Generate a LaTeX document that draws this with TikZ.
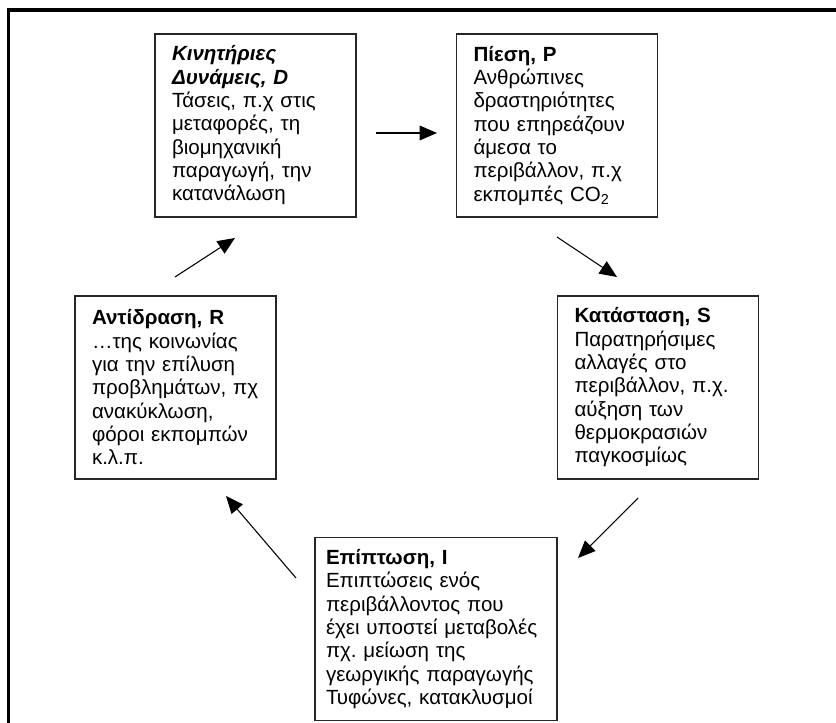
\documentclass[tikz,border=0pt]{standalone}
\usepackage{fontspec}
\setmainfont{Liberation Sans}
\usetikzlibrary{arrows.meta}
\frenchspacing

\begin{document}
\begin{tikzpicture}[
    x=0.75pt, y=-0.75pt,
    box/.style={rectangle, draw=black!85, line width=0.9pt, align=left, text width=125.25pt, inner xsep=12.75pt, minimum height=137.25pt, font=\fontsize{15.4}{17.5}\selectfont},
    arrow/.style={-{Triangle[length=13pt, width=11pt]}, line width=0.8pt}
]
\useasboundingbox (0,0) rectangle (836,723);
% frame
\draw[line width=2.4pt] (8.5,723) -- (8.5,10) -- (836,10);

% the five boxes of the cycle
\node[box] (drv) at (255.5,125.5) {\textbf{\textit{Κινητήριες Δυνάμεις, D}}\\Τάσεις, π.χ στις\\μεταφορές, τη\\βιομηχανική\\παραγωγή, την\\κατανάλωση};
\node[box] (pres) at (557,125.5) {\textbf{Πίεση, P}\\Ανθρώπινες\\δραστηριότητες\\που επηρεάζουν\\άμεσα το\\περιβάλλον, π.χ\\εκπομπές CO\textsubscript{2}};
\node[box] (state) at (658,387.5) {\textbf{Κατάσταση, S}\\Παρατηρήσιμες\\αλλαγές στο\\περιβάλλον, π.χ.\\αύξηση των\\θερμοκρασιών\\παγκοσμίως};
\node[box, text width=165pt, inner xsep=8.25pt] (imp) at (436,629) {\textbf{Επίπτωση, I}\\Επιπτώσεις ενός\\περιβάλλοντος που\\έχει υποστεί μεταβολές\\πχ. μείωση της\\γεωργικής παραγωγής\\Τυφώνες, κατακλυσμοί};
\node[box] (resp) at (175.5,387.5) {\textbf{Αντίδραση, R}\\…της κοινωνίας\\για την επίλυση\\προβλημάτων,~πχ\\ανακύκλωση,\\φόροι εκπομπών\\κ.λ.π.};

% arrow ends
\coordinate (dp1) at (376,133);
\coordinate (dp2) at (437,133);
\coordinate (ps1) at (557,237);
\coordinate (ps2) at (617,277);
\coordinate (si1) at (638,498);
\coordinate (si2) at (578,558);
\coordinate (ir1) at (296,578);
\coordinate (ir2) at (226,496);
\coordinate (rd1) at (175,277);
\coordinate (rd2) at (235,238);

\draw[arrow] (dp1) -- (dp2);
\draw[arrow] (ps1) -- (ps2);
\draw[arrow] (si1) -- (si2);
\draw[arrow] (ir1) -- (ir2);
\draw[arrow] (rd1) -- (rd2);
\end{tikzpicture}
\end{document}
